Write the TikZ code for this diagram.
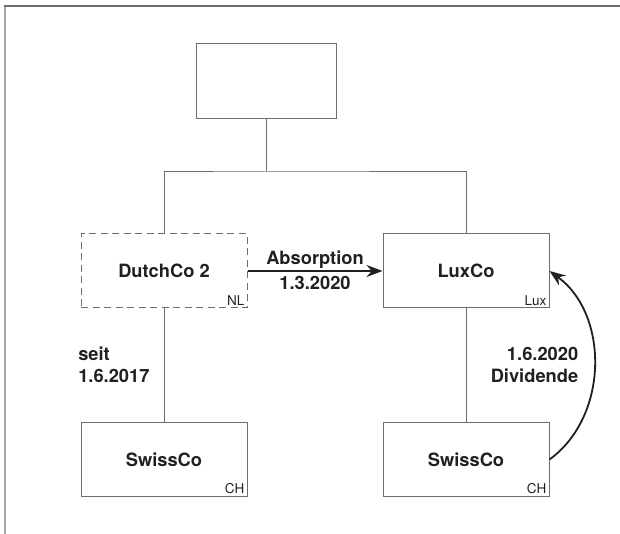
\documentclass[tikz,border=0pt]{standalone}
\usepackage{fontspec}
\setmainfont{TeX Gyre Heros}
\usetikzlibrary{arrows.meta}
\definecolor{linie}{HTML}{6E6E6E}
\definecolor{schrift}{HTML}{231F20}
\begin{document}
\begin{tikzpicture}[
        x=1pt, y=1pt,
        firma/.style={rectangle, draw=linie, line width=1pt, minimum width=166pt, minimum height=74pt, text=schrift, font=\bfseries\fontsize{18.3}{22}\selectfont},
        leer/.style={firma, minimum width=140pt, minimum height=75pt},
        aufgeloest/.style={firma, dash pattern=on 7pt off 4.5pt},
        land/.style={anchor=south east, inner sep=3pt, text=schrift, font=\fontsize{13.5}{15}\selectfont},
        notiz/.style={inner sep=0pt, text=schrift, font=\bfseries\fontsize{18.3}{22}\selectfont},
        beteiligung/.style={draw=linie, line width=1pt},
        pfeil/.style={draw=schrift, line width=1.8pt, -{Stealth[length=16pt, width=12pt]}}
    ]
        \useasboundingbox (0,0) rectangle (620,534);
        \draw[linie!60, line width=2pt] (5,528) -- (5,0);
        \draw[linie, line width=1.5pt] (4,528) -- (620,528);

        \node[leer] (holding) at (266,452.5) {};
        \coordinate (bar) at (266,362);
        \node[aufgeloest] (dutch) at (164,263) {DutchCo 2};
        \node[firma] (lux) at (466,263) {LuxCo};
        \node[firma] (swissA) at (164,74.5) {SwissCo};
        \node[firma] (swissB) at (466,74.5) {SwissCo};

        \node[land] (nl) at (dutch.south east) {NL};
        \node[land] (lu) at (lux.south east) {Lux};
        \node[land] (chA) at (swissA.south east) {CH};
        \node[land] (chB) at (swissB.south east) {CH};

        \draw[beteiligung] (holding.south) -- (bar);
        \draw[beteiligung] (dutch.north) |- (bar) -| (lux.north);
        \draw[beteiligung] (dutch.south) -- node[notiz, left=14pt, align=left] (seit) {seit\\1.6.2017} (swissA.north);
        \draw[beteiligung] (lux.south) -- (swissB.north);

        \draw[pfeil] (dutch.east) -- node[notiz, above=1.5pt] (absorption) {Absorption} node[notiz, below=4pt] (datum) {1.3.2020} (lux.west);
        \draw[pfeil] (swissB.east) to[bend right=54] node[notiz, left=15pt, align=right] (dividende) {1.6.2020\\Dividende} (lux.east);
    \end{tikzpicture}
\end{document}
